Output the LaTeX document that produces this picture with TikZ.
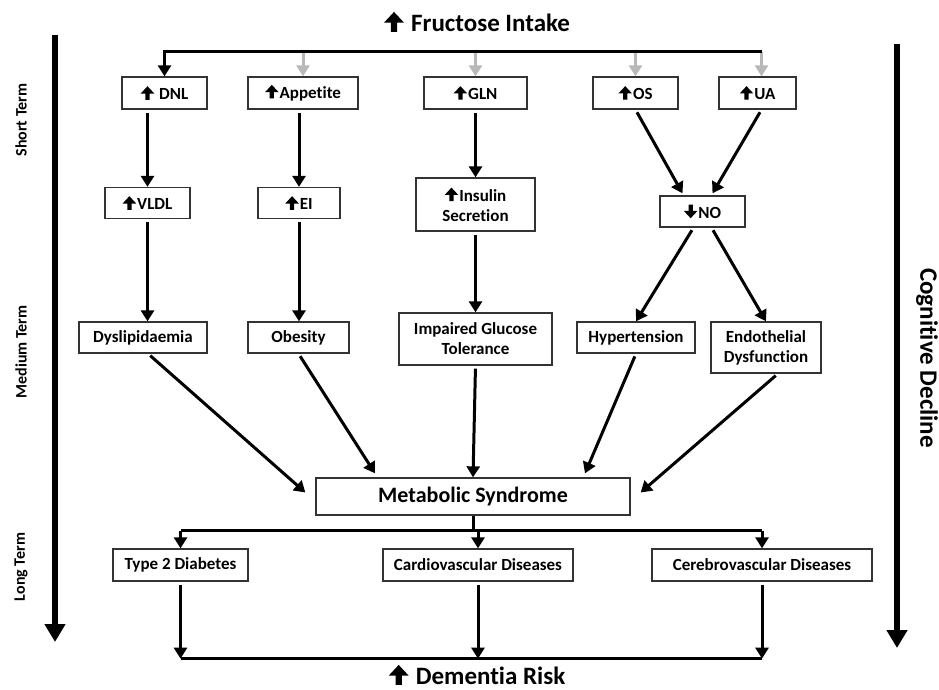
\documentclass[tikz,border=0pt]{standalone}
\usepackage{fontspec}
\setmainfont{Carlito}[Ligatures=CommonOff]
\usetikzlibrary{arrows.meta}
\newcommand{\upar}{\tikz[baseline=0pt,x=0.1em,y=0.1em]\fill[black] (-1.25,0) -- (-1.25,3.7) -- (-4,3.7) -- (0,8) -- (4,3.7) -- (1.25,3.7) -- (1.25,0) -- cycle;\kern0.06em}
\newcommand{\dnar}{\tikz[baseline=0pt,x=0.1em,y=0.1em]\fill[black] (-1.25,8) -- (-1.25,4.3) -- (-4,4.3) -- (0,0) -- (4,4.3) -- (1.25,4.3) -- (1.25,8) -- cycle;\kern0.06em}

\begin{document}
\begin{tikzpicture}
[x=1pt,y=-1pt,
 box/.style={draw=black!80,line width=1.3pt,align=center,inner sep=0pt,
   font=\fontsize{17}{20}\selectfont\bfseries},
 flow/.style={line width=3pt,shorten <=3pt,-{Triangle[width=13pt,length=11pt]}},
 greyflow/.style={flow,draw=black!28,shorten <=1pt},
 bar/.style={line width=3pt},
 timeline/.style={line width=6.5pt,-{Triangle[width=20pt,length=18pt]}},
 heading/.style={inner sep=0pt,font=\fontsize{25}{29}\selectfont\bfseries},
 phase/.style={rotate=90,font=\fontsize{16}{18}\selectfont\bfseries}]
\useasboundingbox (0,0) rectangle (939,690);
%% headings and time axes
\node[heading] (fructose) at (477,22) {\upar\ Fructose Intake};
\node[heading] (dementia) at (477,675) {\upar\ Dementia Risk};
\foreach \name/\y/\txt in {short/120/Short Term, medium/352/Medium Term, long/567/Long Term} {
  \node[phase] (\name) at (21,\y) {\txt};
}
\node[rotate=-90,font=\fontsize{25}{28}\selectfont\bfseries] (cognitive) at (927,358) {Cognitive Decline};
\coordinate (lefttop) at (55,35);
\coordinate (leftend) at (55,642);
\coordinate (righttop) at (897,44);
\coordinate (rightend) at (897,648);
\draw[timeline] (lefttop) -- (leftend);
\draw[timeline] (righttop) -- (rightend);
%% boxes
\foreach \name/\x/\y/\w/\h/\txt in {
  dnl/164.5/93/85/32/{\upar\ DNL}, app/303/93/110/32/{\upar Appetite},
  gln/475.5/93/103/32/{\upar GLN}, os/635.5/93/85/32/{\upar OS},
  ua/757.5/93/77/32/{\upar UA},
  vldl/147.5/203/85/31/{\upar VLDL}, ei/299/203/82/31/{\upar EI},
  ins/475.5/204.5/119/53/{\upar Insulin\\Secretion}, no/702.5/211.5/85/31/{\dnar NO},
  dys/143/337.5/128/31/{Dyslipidaemia}, obe/298.5/337.5/101/31/{Obesity},
  igt/475.5/339/153/52/{Impaired Glucose\\Tolerance}, hyp/636/337.5/118/31/{Hypertension},
  endo/766/347.5/110/51/{Endothelial\\Dysfunction},
  t2d/180.5/565/135/32/{Type 2 Diabetes}, cvd/478/565/190/32/{Cardiovascular Diseases},
  cevd/762/565/220/32/{Cerebrovascular Diseases}} {
  \node[box,minimum width=\w pt,minimum height=\h pt] (\name) at (\x,\y) {\txt};
}
\node[box,minimum width=314pt,minimum height=37pt,font=\fontsize{22}{26}\selectfont\bfseries]
  (ms) at (473,496.5) {Metabolic Syndrome};
%% fructose intake bar
\path (dnl.north) ++(0,-25) coordinate (barleft);
\foreach \n in {app,gln,os} {
  \draw[greyflow] (barleft -| \n.north) -- (\n.north);
}
\draw[greyflow] ([xshift=4pt]barleft -| ua.north) -- ([xshift=4pt]ua.north);
\draw[flow,shorten <=0pt] ([xshift=4pt]barleft -| ua.north) -- (barleft) -- (dnl.north);
%% short to medium term
\foreach \a/\b in {dnl/vldl, app/ei, gln/ins} {
  \draw[flow] (\a.south -| \b) -- (\b.north);
}
\foreach \a/\b in {vldl/dys, ei/obe, ins/igt} {
  \draw[flow] (\a.south) -- (\a.south |- \b.north);
}
\draw[flow] (os.south) -- ([xshift=-20pt,yshift=2pt]no.north);
\draw[flow] ([xshift=4pt]ua.south) -- ([xshift=10pt,yshift=2pt]no.north);
\draw[flow] ([xshift=-9pt]no.south) -- (hyp.north);
\draw[flow] ([xshift=9pt]no.south) -- (endo.north);
%% into metabolic syndrome
\draw[flow] ([xshift=5pt]dys.south) -- ([xshift=-10pt,yshift=4pt]ms.west);
\draw[flow] (obe.south) -- ([xshift=-98pt,yshift=4pt]ms.north);
\draw[flow] (igt.south) -- (ms.north);
\draw[flow] (hyp.south) -- ([xshift=112pt,yshift=4pt]ms.north);
\draw[flow] ([xshift=12pt]endo.south) -- ([xshift=10pt,yshift=4pt]ms.east);
%% long term
\path (ms.south) ++(0,15) coordinate (split);
\path (cvd.south) ++(0,77) coordinate (merge);
\draw[bar] (ms.south) -- (split);
\draw[bar] (split -| t2d) -- (split -| cevd);
\draw[bar] (merge -| t2d) -- (merge -| cevd);
\foreach \n in {t2d,cvd,cevd} {
  \draw[flow,shorten <=0pt] (split -| \n) -- (\n.north);
  \draw[flow] (\n.south) -- (\n.south |- merge);
}
\end{tikzpicture}
\end{document}
